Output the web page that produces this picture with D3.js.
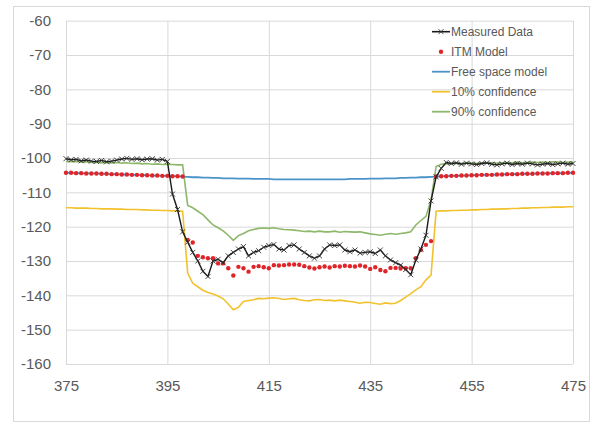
<html>
<head>
<meta charset="utf-8">
<script src="https://d3js.org/d3.v7.min.js"></script>
<style>
  body { margin: 0; background: #fff; }
  text { font-family: "Liberation Sans", Arial, sans-serif; }
</style>
</head>
<body>
<svg id="chart" width="595" height="426"></svg>
<script>

// Distance steps along the route, one per unit from 375 to 475
var distance = d3.range(375, 476);

// Measured signal level (dBm)
var measured = [
  -100.2, -100.5, -100.4, -100.8, -100.6, -100.9, -101.0, -100.7, -101.1, -100.9,
  -100.6, -100.3, -100.1, -100.4, -100.2, -100.5, -100.3, -100.2, -100.6, -100.4,
  -101.0, -110.5, -115.0, -121.5, -124.5, -127.5, -130.0, -133.0, -134.5, -130.0,
  -129.5, -130.5, -128.5, -127.5, -126.5, -125.8, -128.5, -127.5, -127.0, -126.0,
  -125.5, -125.2, -126.5, -126.8, -125.5, -125.3, -126.5, -127.5, -128.5, -129.2,
  -128.5, -126.5, -125.3, -125.5, -125.3, -126.8, -127.3, -126.8, -127.7, -127.5,
  -127.3, -127.8, -126.8, -128.5, -129.7, -130.5, -131.2, -132.5, -134.0, -129.7,
  -126.5, -122.5, -112.5, -105.5, -103.0, -101.3, -101.6, -101.4, -101.8, -101.5,
  -101.7, -101.9, -101.6, -101.4, -101.8, -102.0, -101.7, -101.5, -101.9, -101.6,
  -101.8, -101.5, -101.7, -102.0, -101.8, -101.6, -101.9, -101.7, -101.5, -101.8,
  -101.6
];

// ITM model prediction
var itm = [
  -104.3, -104.3, -104.4, -104.4, -104.5, -104.5, -104.5, -104.6, -104.6, -104.7,
  -104.7, -104.8, -104.8, -104.9, -104.9, -105.0, -105.0, -105.1, -105.1, -105.2,
  -105.2, -105.3, -105.3, -105.4, -123.9, -124.6, -128.5, -128.9, -129.2, -129.2,
  -130.7, -130.7, -132.1, -134.2, -131.7, -132.1, -133.1, -131.7, -131.5, -131.8,
  -132.1, -131.2, -131.3, -131.2, -131.0, -131.0, -131.1, -131.5, -131.9, -132.2,
  -131.8, -131.6, -131.9, -131.5, -131.6, -131.4, -131.5, -131.6, -131.3, -131.6,
  -132.3, -131.8, -132.6, -133.0, -132.0, -132.0, -132.2, -132.1, -132.1, -129.2,
  -126.8, -125.3, -124.2, -105.4, -105.3, -105.3, -105.2, -105.2, -105.1, -105.1,
  -105.0, -105.0, -104.9, -104.9, -104.9, -104.8, -104.8, -104.7, -104.7, -104.7,
  -104.6, -104.6, -104.6, -104.5, -104.5, -104.5, -104.4, -104.4, -104.4, -104.3,
  -104.3
];

// Free space model
var freeSpace = [
  -104.3, -104.3, -104.4, -104.4, -104.5, -104.5, -104.5, -104.6, -104.6, -104.7,
  -104.7, -104.8, -104.8, -104.9, -104.9, -105.0, -105.0, -105.1, -105.1, -105.2,
  -105.2, -105.3, -105.3, -105.4, -105.5, -105.6, -105.6, -105.7, -105.7, -105.8,
  -105.8, -105.9, -105.9, -105.9, -106.0, -106.0, -106.0, -106.1, -106.1, -106.1,
  -106.1, -106.2, -106.2, -106.2, -106.2, -106.2, -106.2, -106.2, -106.2, -106.2,
  -106.2, -106.2, -106.2, -106.2, -106.2, -106.2, -106.1, -106.1, -106.1, -106.1,
  -106.0, -106.0, -106.0, -105.9, -105.9, -105.9, -105.8, -105.8, -105.7, -105.7,
  -105.6, -105.6, -105.5, -105.4, -105.3, -105.3, -105.2, -105.2, -105.1, -105.1,
  -105.0, -105.0, -104.9, -104.9, -104.9, -104.8, -104.8, -104.7, -104.7, -104.7,
  -104.6, -104.6, -104.6, -104.5, -104.5, -104.5, -104.4, -104.4, -104.4, -104.3,
  -104.3
];

// 10% confidence bound
var conf10 = [
  -114.5, -114.5, -114.6, -114.6, -114.6, -114.7, -114.7, -114.8, -114.8, -114.8,
  -114.9, -114.9, -115.0, -115.0, -115.0, -115.1, -115.1, -115.2, -115.2, -115.3,
  -115.3, -115.4, -115.4, -115.5, -133.5, -136.5, -137.5, -138.5, -139.2, -139.6,
  -140.2, -141.0, -142.5, -144.2, -143.5, -141.8, -141.5, -141.3, -140.9, -141.0,
  -140.8, -140.7, -140.9, -141.2, -141.0, -140.9, -141.3, -141.5, -141.6, -141.3,
  -141.2, -141.5, -141.4, -141.6, -141.4, -141.6, -141.8, -142.0, -142.3, -142.0,
  -142.1, -142.4, -142.6, -142.2, -142.4, -142.3, -141.5, -140.5, -139.5, -138.4,
  -137.5, -135.5, -134.1, -115.5, -115.4, -115.4, -115.3, -115.3, -115.2, -115.2,
  -115.1, -115.1, -115.0, -115.0, -114.9, -114.9, -114.8, -114.8, -114.7, -114.7,
  -114.6, -114.6, -114.5, -114.5, -114.4, -114.4, -114.3, -114.3, -114.3, -114.2,
  -114.2
];

// 90% confidence bound
var conf90 = [
  -101.0, -101.1, -101.0, -101.2, -101.1, -101.3, -101.2, -101.4, -101.3, -101.4,
  -101.3, -101.5, -101.4, -101.6, -101.5, -101.7, -101.6, -101.8, -101.7, -101.9,
  -101.8, -101.9, -102.0, -102.0, -113.8, -114.5, -115.5, -116.5, -118.0, -119.5,
  -120.3, -121.2, -122.5, -124.0, -122.6, -122.0, -121.2, -120.8, -120.5, -120.4,
  -120.5, -120.3, -120.6, -120.8, -120.9, -121.0, -121.2, -121.4, -121.3, -121.5,
  -121.3, -121.5, -121.5, -121.3, -121.6, -121.4, -121.5, -121.6, -121.5, -121.8,
  -122.1, -122.3, -122.5, -122.2, -122.0, -122.2, -122.0, -121.8, -121.5, -119.5,
  -118.2, -117.0, -112.2, -102.5, -101.8, -101.6, -101.7, -101.5, -101.6, -101.4,
  -101.5, -101.6, -101.4, -101.5, -101.3, -101.5, -101.4, -101.3, -101.4, -101.2,
  -101.4, -101.3, -101.2, -101.3, -101.2, -101.3, -101.1, -101.2, -101.3, -101.2,
  -101.2
];

var xTicks = [375, 395, 415, 435, 455, 475];
var yTicks = [-60, -70, -80, -90, -100, -110, -120, -130, -140, -150, -160];
var legendNames = ["Measured Data", "ITM Model", "Free space model", "10% confidence", "90% confidence"];

var svg = d3.select("#chart");

// outer chart frame
svg.append("rect")
  .attr("x", 13.5).attr("y", 6.5)
  .attr("width", 576).attr("height", 415)
  .attr("fill", "#fff")
  .attr("stroke", "#d9d9d9");

var x = d3.scaleLinear().domain([375, 475]).range([66, 573]);
var y = d3.scaleLinear().domain([-160, -60]).range([364, 20.7]);

// gridlines
svg.append("g")
  .attr("transform", "translate(0,364)")
  .call(d3.axisBottom(x).tickValues(xTicks).tickSize(-343.3).tickFormat(""))
  .call(function(g) { g.select(".domain").remove(); })
  .selectAll("line").attr("stroke", "#d9d9d9");

svg.append("g")
  .attr("transform", "translate(66,0)")
  .call(d3.axisLeft(y).tickValues(yTicks).tickSize(-507).tickFormat(""))
  .call(function(g) { g.select(".domain").remove(); })
  .selectAll("line").attr("stroke", "#d9d9d9");

// tick labels (plain hyphen for the minus sign, as in the original)
svg.append("g")
  .attr("transform", "translate(66,0)")
  .call(d3.axisLeft(y).tickValues(yTicks).tickSize(0).tickPadding(15)
    .tickFormat(function(d) { return String(d); }))
  .call(function(g) { g.select(".domain").remove(); })
  .selectAll("text")
  .attr("fill", "#595959")
  .style("font-size", "15px");

svg.append("g")
  .attr("transform", "translate(0,364)")
  .call(d3.axisBottom(x).tickValues(xTicks).tickSize(0).tickPadding(16))
  .call(function(g) { g.select(".domain").remove(); })
  .selectAll("text")
  .attr("fill", "#595959")
  .style("font-size", "15px");

var line = d3.line()
  .x(function(d) { return x(d[0]); })
  .y(function(d) { return y(d[1]); });

var pairs = function(values) {
  return distance.map(function(d, i) { return [d, values[i]]; });
};

svg.append("path").datum(pairs(conf90))
  .attr("d", line).attr("fill", "none")
  .attr("stroke", "#8db86b").attr("stroke-width", 1.6);

svg.append("path").datum(pairs(conf10))
  .attr("d", line).attr("fill", "none")
  .attr("stroke", "#f2c12e").attr("stroke-width", 1.6);

svg.append("path").datum(pairs(freeSpace))
  .attr("d", line).attr("fill", "none")
  .attr("stroke", "#4b94c8").attr("stroke-width", 1.8);

svg.append("g").selectAll("circle")
  .data(pairs(itm))
  .enter().append("circle")
  .attr("cx", function(d) { return x(d[0]); })
  .attr("cy", function(d) { return y(d[1]); })
  .attr("r", 2.2)
  .attr("fill", "#e0252a");

svg.append("path").datum(pairs(measured))
  .attr("d", line).attr("fill", "none")
  .attr("stroke", "#1a1a1a").attr("stroke-width", 1.4);

// x-shaped markers on the measured series
svg.append("g").selectAll("path")
  .data(pairs(measured))
  .enter().append("path")
  .attr("d", "M-2.5,-2.5L2.5,2.5M-2.5,2.5L2.5,-2.5")
  .attr("transform", function(d) { return "translate(" + x(d[0]) + "," + y(d[1]) + ")"; })
  .attr("stroke", "#333")
  .attr("stroke-width", 0.9);

// legend
var legend = svg.append("g").attr("transform", "translate(432,0)");
var legendColors = ["#1a1a1a", "#e0252a", "#4b94c8", "#f2c12e", "#8db86b"];

legendNames.forEach(function(name, i) {
  var ly = 31.7 + i * 20;
  if (i === 1) {
    legend.append("circle").attr("cx", 9).attr("cy", ly).attr("r", 2.2).attr("fill", legendColors[i]);
  } else {
    legend.append("line")
      .attr("x1", 0).attr("x2", 18).attr("y1", ly).attr("y2", ly)
      .attr("stroke", legendColors[i]).attr("stroke-width", i === 0 ? 1.6 : 1.8);
    if (i === 0) {
      legend.append("path")
        .attr("d", "M-2.5,-2.5L2.5,2.5M-2.5,2.5L2.5,-2.5")
        .attr("transform", "translate(9," + ly + ")")
        .attr("stroke", "#333").attr("stroke-width", 0.9);
    }
  }
  legend.append("text")
    .attr("x", 19).attr("y", ly)
    .attr("dy", "0.35em")
    .attr("fill", "#595959")
    .style("font-size", "12px")
    .text(name);
});

</script>
</body>
</html>
